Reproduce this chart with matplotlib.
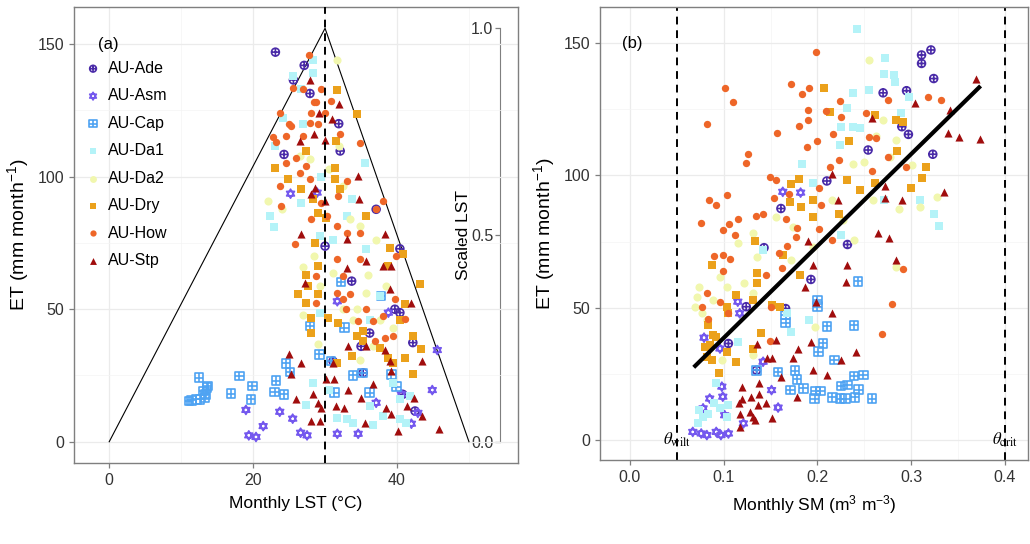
import matplotlib
matplotlib.use("Agg")
import matplotlib.pyplot as plt
from matplotlib.path import Path
import numpy as np

plt.rcParams['font.family'] = ['Liberation Sans', 'DejaVu Sans']
plt.rcParams['mathtext.fontset'] = 'custom'
plt.rcParams['mathtext.rm'] = 'Liberation Sans'
plt.rcParams['mathtext.it'] = 'Liberation Sans:italic'

# ---- datos (a): LST vs ET
sitios = ["AU-Ade", "AU-Asm", "AU-Cap", "AU-Da1", "AU-Da2", "AU-Dry", "AU-How", "AU-Stp"]

ade_lst = [23.1, 27.1, 25.6, 27.9, 31.9, 32.1, 24.3, 30.0, 37.1, 40.4, 33.7, 39.7, 40.4, 36.2, 35.0, 35.3, 40.8, 42.5, 42.2, 31.1]
ade_et_a = [147, 142, 136.5, 131.4, 120, 109.7, 108.4, 73.8, 87.7, 72.8, 60.6, 50, 48.7, 41, 36, 26, 17.9, 11.6, 37.4, 30.4]

asm_lst = [25.2, 28.9, 19.0, 23.7, 21.4, 19.4, 20.4, 25.5, 26.6, 27.5, 31.7, 34.6, 37.1, 38.8, 31.7, 42.0, 42.9, 44.9, 45.6, 40.6]
asm_et_a = [93.6, 94, 12, 11.3, 5.9, 2.4, 1.8, 8.7, 3.4, 2.4, 3, 3, 14.7, 48.7, 53, 6.8, 10.9, 19.5, 34.6, 17.9]

cap_lst = [12.5, 11.4, 11.1, 12.1, 12.6, 13.3, 13.1, 13.6, 13.7, 13.4, 16.9, 18.1, 19.9, 19.7, 23.0, 24.3, 23.2, 24.6, 25.1, 29.2,
           32.2, 32.7, 33.9, 30.8, 37.8, 39.9, 39.2, 27.9, 31.3, 35.2, 36.2]
cap_et_a = [24.2, 15.6, 15.3, 16, 16, 16.6, 19.1, 20.4, 21, 17.9, 18.2, 24.8, 21, 16, 18.7, 17.9, 23.1, 29.6, 26.3, 33,
            60.3, 43, 25, 30.4, 55, 20.8, 25.4, 43.6, 18.5, 26, 18.5]

da1_lst = [28.3, 25.6, 28.3, 26.7, 24.2, 23.0, 35.5, 22.3, 22.9, 26.7, 33.7, 35.7, 29.3, 33.0, 37.6, 36.2, 28.3, 27.4, 30.6, 33.0,
           31.6, 33.9, 36.7, 38.1, 40.4, 41.3, 36.2, 39.5, 41.8, 29.3, 31.1, 40.4, 27.0, 29.5]
da1_et_a = [144, 138, 139, 133, 122, 111.6, 105, 85, 81, 90, 91.4, 72.6, 77.6, 85, 55, 46, 22.3, 14, 19.7, 8.4,
            9, 7, 6.5, 9.7, 8.4, 7, 13.5, 22.3, 17.2, 48.7, 76, 16, 120, 100]

da2_lst = [22.1, 26.9, 29.0, 32.5, 33.4, 34.8, 35.7, 37.1, 38.5, 34.8, 37.6, 29.3, 30.2, 31.6, 32.0, 26.5, 27.9, 31.1, 32.5, 33.9,
           36.7, 34.4, 24.0, 28.5, 30.5, 36.0, 39.5, 27.0]
da2_et_a = [90.8, 66, 37, 96.5, 84, 81.4, 56, 76, 58.7, 31, 46, 58.7, 85, 144, 111.6, 107.8, 106.5, 63.8, 50, 46,
            36, 50, 88, 70, 103, 63, 43, 48]

dry_lst = [31.7, 34.5, 31.5, 23.1, 24.9, 26.7, 27.3, 28.3, 31.4, 31.4, 32.1, 29.0, 30.2, 35.7, 39.0, 40.8, 28.6, 29.0, 27.4, 27.6,
           26.2, 27.4, 29.0, 28.1, 28.1, 30.4, 31.8, 33.7, 31.6, 34.4, 35.3, 35.3, 37.7, 38.8, 39.4, 41.1, 42.2, 43.3, 42.2, 41.1,
           43.2, 40.4, 38.8]
dry_et_a = [132.7, 123.8, 113.5, 103.4, 99, 95.2, 109.7, 91.4, 103.4, 99, 95.2, 86.4, 84.5, 85.2, 73.2, 70.7, 75, 66.3, 63, 58.7,
            55.6, 52.5, 55.6, 46.8, 41, 46.8, 44.9, 32.3, 29.8, 39.9, 41.8, 38, 35.5, 31.7, 29.8, 31.7, 39.9, 35, 25.4, 51.8,
            59.4, 46, 66.3]

how_lst = [27.8, 23.8, 25.6, 26.9, 29.5, 30.8, 32.1, 34.9, 23.2, 24.6, 25.3, 26.9, 27.9, 30.0, 28.8, 28.1, 24.6, 26.5, 27.4, 27.9,
           23.7, 23.9, 28.1, 29.5, 31.8, 33.0, 31.6, 33.0, 25.8, 34.8, 38.0, 37.1, 34.8, 31.6, 32.5, 39.8, 31.6, 33.4, 32.5, 32.9,
           34.6, 35.7, 36.7, 38.1, 39.7, 41.1, 38.3, 36.9, 28.8, 28.8, 39.4, 26.0, 29.0, 25.0, 30.3, 28.5, 22.8]
how_et_a = [146, 124, 133.6, 133, 133, 128.5, 116, 112.6, 113, 115.3, 119, 115.3, 120.4, 124, 128, 124, 105, 101.5, 104, 99,
            96.5, 89, 84, 90, 92.7, 98.4, 81.4, 78.9, 74.5, 78.9, 90.8, 87.7, 68.8, 68.8, 62.5, 70, 56.2, 55.6, 53.7, 50,
            45.5, 50, 45.5, 47.4, 53.7, 46.2, 39.2, 38, 62.5, 52.5, 39.9, 107, 120, 120, 85, 128, 115]

stp_lst = [27.9, 31.9, 29.2, 31.0, 28.4, 30.0, 26.5, 34.6, 28.6, 28.1, 30.0, 34.7, 26.6, 33.0, 35.7, 38.3, 38.1, 39.2, 33.0, 39.0,
           42.0, 27.2, 35.7, 33.2, 38.3, 39.0, 43.5, 39.2, 31.1, 30.2, 31.3, 25.0, 25.3, 26.6, 26.0, 28.3, 29.0, 29.5, 28.1, 29.3,
           31.5, 33.2, 32.7, 35.0, 35.5, 36.7, 38.5, 39.2, 40.1, 41.4, 42.4, 43.5, 45.8]
stp_et_a = [136.5, 127.3, 124, 121.6, 116, 114, 113.5, 100.3, 95.8, 93.3, 90.8, 91.4, 78.2, 76.4, 68.2, 78.2, 66.3, 66.3, 65.7, 57.5,
            52.5, 60, 36, 36, 34.8, 30.4, 30.4, 26.7, 29.8, 23.5, 23.8, 33, 25.4, 29.8, 16, 17.9, 14.7, 12.8, 7.8, 7.8,
            13.5, 19.7, 12.8, 16.6, 7.2, 21.6, 12.8, 10.3, 4, 13.5, 16.6, 9.7, 4.7]

# triangulo LST
tri_lst = [0, 30, 50]
tri_et = [0, 156, 0]
lst_corte = 30

# ---- datos (b): SM vs ET
ade_sm = [0.311, 0.311, 0.321, 0.324, 0.295, 0.270, 0.290, 0.297, 0.323, 0.254, 0.210, 0.161, 0.143, 0.232, 0.193, 0.124, 0.166, 0.135, 0.105]
ade_et_b = [145.5, 142.3, 147.4, 136.6, 132, 131.2, 118.4, 115.5, 108, 109.6, 97.9, 87.5, 72.7, 73.9, 60.7, 50.4, 49.7, 26.4, 36.5]

asm_sm = [0.163, 0.182, 0.115, 0.117, 0.079, 0.096, 0.142, 0.098, 0.085, 0.078, 0.101, 0.151, 0.158, 0.121, 0.067, 0.076, 0.082, 0.092, 0.097, 0.105, 0.099]
asm_et_b = [93.8, 93.5, 52.3, 47.9, 38.7, 34.6, 29.6, 20.2, 15.7, 12, 9.4, 18.9, 12.3, 6.3, 3.1, 2.5, 1.9, 3.1, 1.9, 2.5, 16.4]

cap_sm = [0.243, 0.200, 0.200, 0.166, 0.166, 0.210, 0.239, 0.206, 0.201, 0.218, 0.135, 0.158, 0.176, 0.178, 0.239, 0.249, 0.225, 0.232, 0.244, 0.171,
          0.185, 0.198, 0.203, 0.216, 0.224, 0.230, 0.240, 0.258, 0.197]
cap_et_b = [60, 50.4, 52.9, 47.2, 44.3, 43, 43.4, 36.5, 33.4, 30.2, 26.4, 25.8, 26.2, 22.9, 24.2, 24.6, 20.4, 20.8, 19.1, 18.9,
            19.5, 18.6, 18.6, 16.1, 15.7, 15.7, 16.1, 15.7, 15.7]

da1_sm = [0.242, 0.272, 0.271, 0.282, 0.283, 0.255, 0.238, 0.232, 0.225, 0.238, 0.245, 0.224, 0.184, 0.195, 0.289, 0.298, 0.271, 0.309, 0.324, 0.330,
          0.225, 0.115, 0.172, 0.191, 0.167, 0.074, 0.078, 0.073, 0.083, 0.090, 0.096, 0.105, 0.103, 0.092, 0.142]
da1_et_b = [155.5, 144.2, 138.5, 137.9, 135.4, 132.2, 131, 125.3, 118.4, 118.4, 117.8, 111.5, 104.5, 97, 123.4, 129.7, 90.7, 90.7, 85.6, 80.9,
            77.5, 37.2, 40.9, 45.3, 47.9, 11.3, 8.8, 6.3, 10, 13.9, 12, 13.2, 8.8, 21.4, 71.8]

da2_sm = [0.255, 0.270, 0.284, 0.277, 0.238, 0.301, 0.259, 0.287, 0.309, 0.328, 0.227, 0.216, 0.174, 0.156, 0.131, 0.115, 0.135, 0.172, 0.122, 0.131,
          0.074, 0.071, 0.069, 0.077, 0.082, 0.089, 0.096, 0.103, 0.197, 0.098, 0.131, 0.284, 0.239, 0.195, 0.250, 0.262]
da2_et_b = [143.6, 120.9, 113.4, 107, 104.5, 103.8, 90.7, 87.5, 88.2, 91.9, 83.1, 90.7, 80.6, 84.4, 78.1, 74.3, 69.3, 68, 59.2, 55.4,
            57.9, 54.2, 50.4, 47.9, 45.3, 52.9, 61.7, 57.9, 42.8, 30.2, 32.1, 65.5, 75.6, 73, 105, 115]

dry_sm = [0.207, 0.213, 0.234, 0.261, 0.285, 0.291, 0.284, 0.316, 0.312, 0.300, 0.245, 0.261, 0.232, 0.180, 0.172, 0.195, 0.182, 0.171, 0.195, 0.223,
          0.133, 0.163, 0.136, 0.135, 0.181, 0.087, 0.113, 0.103, 0.105, 0.131, 0.152, 0.160, 0.083, 0.089, 0.085, 0.080, 0.082, 0.087, 0.092, 0.103,
          0.113, 0.095, 0.140, 0.131]
dry_et_b = [133.1, 123.8, 113, 122.8, 109.3, 120.3, 120.9, 103.3, 99.1, 95.1, 94.5, 97, 98.2, 98.5, 96.6, 90.7, 87.9, 89.8, 84.4, 85.6,
            75.3, 69.9, 63, 59.2, 62.3, 66.1, 54.8, 50.4, 47.9, 52.9, 51, 50.4, 43.4, 39.7, 35.9, 35.3, 31.5, 30.2, 39, 33.4,
            29.6, 25.4, 40.3, 34.6]

how_sm = [0.198, 0.101, 0.110, 0.172, 0.191, 0.183, 0.224, 0.275, 0.318, 0.332, 0.252, 0.225, 0.209, 0.190, 0.180, 0.157, 0.189, 0.217, 0.199, 0.255,
          0.275, 0.294, 0.258, 0.223, 0.213, 0.126, 0.124, 0.082, 0.149, 0.156, 0.170, 0.154, 0.202, 0.204, 0.084, 0.092, 0.104, 0.076, 0.106, 0.115,
          0.099, 0.112, 0.134, 0.142, 0.166, 0.178, 0.202, 0.215, 0.177, 0.167, 0.159, 0.099, 0.107, 0.090, 0.099, 0.145, 0.162, 0.082, 0.077, 0.096,
          0.083, 0.105, 0.150, 0.149, 0.279, 0.291, 0.269, 0.190, 0.262]
how_et_b = [146.5, 133.2, 127.8, 134.5, 133.2, 130.6, 128.2, 128.5, 129.7, 128.5, 123.7, 121.9, 124.4, 124.7, 118.6, 115.9, 110.8, 115.5, 113, 114.6,
            107, 103.3, 101.8, 105.8, 103.3, 108.1, 104.8, 119.4, 99.5, 98.2, 93, 91.3, 95.1, 89, 90.7, 88.8, 92.6, 81.9, 81.6, 83.4,
            79.3, 77.5, 84.6, 85.6, 83.5, 80, 79.6, 75.6, 76.6, 73.3, 70.8, 69.9, 68.6, 69.5, 64, 62.3, 64.9, 55.7, 50.1, 52.3,
            45.6, 47.9, 50.1, 37.5, 51.4, 64.5, 39.9, 121, 114]

stp_sm = [0.369, 0.341, 0.304, 0.258, 0.339, 0.351, 0.373, 0.335, 0.290, 0.272, 0.272, 0.216, 0.222, 0.265, 0.276, 0.284, 0.232, 0.230, 0.195, 0.190,
          0.187, 0.198, 0.215, 0.193, 0.179, 0.156, 0.135, 0.241, 0.225, 0.210, 0.195, 0.174, 0.151, 0.161, 0.138, 0.138, 0.120, 0.129, 0.120, 0.116,
          0.137, 0.145, 0.117, 0.128, 0.131, 0.133, 0.151, 0.117, 0.178, 0.146]
stp_et_b = [136.4, 124.7, 127.2, 121.8, 116.2, 114.6, 113.6, 93.8, 90.7, 96, 91.6, 100.5, 90.7, 78.1, 76.4, 68, 66.1, 59.8, 66.1, 75.3,
            57.7, 52.3, 47.9, 37.2, 34.3, 37.8, 36.3, 33.4, 30.2, 24.6, 26.4, 30.9, 30.9, 23.9, 21.4, 17.6, 20.2, 16.4, 15.7, 13.9,
            13.2, 13.9, 10, 10.7, 8.8, 7.6, 8.2, 5, 16.4, 31]

# recta de ajuste y umbrales
ajuste_sm = [0.068, 0.374]
ajuste_et = [27.5, 133.8]
theta_wilt = 0.05
theta_crit = 0.4

# ---- marcadores tipo R (pch 10, 11, 12)
M, L, C = Path.MOVETO, Path.LINETO, Path.CLOSEPOLY
cruz = Path([(-1, 0), (1, 0), (0, -1), (0, 1)], [M, L, M, L])
circulo_cruz = Path.make_compound_path(Path.unit_circle(), cruz)
cuadro = Path([(-1, -1), (1, -1), (1, 1), (-1, 1), (-1, -1)], [M, L, L, L, C])
cuadro_cruz = Path.make_compound_path(cuadro, cruz)
arriba = Path([(0, 1), (-0.866, -0.5), (0.866, -0.5), (0, 1)], [M, L, L, C])
abajo = Path([(0, -1), (-0.866, 0.5), (0.866, 0.5), (0, -1)], [M, L, L, C])
estrella = Path.make_compound_path(arriba, abajo)

colores = ["#4A2BA8", "#7458EE", "#4FA3F2", "#B4F3F8", "#F1F7AE", "#EBA11B", "#EE6628", "#A00D0D"]
marcadores = [circulo_cruz, estrella, cuadro_cruz, "s", "o", "s", "o", "^"]
abiertos = [True, True, True, False, False, False, False, False]
tamanos = [32, 42, 38, 30, 34, 30, 28, 34]

datos_a = [(ade_lst, ade_et_a), (asm_lst, asm_et_a), (cap_lst, cap_et_a), (da1_lst, da1_et_a),
           (da2_lst, da2_et_a), (dry_lst, dry_et_a), (how_lst, how_et_a), (stp_lst, stp_et_a)]
datos_b = [(ade_sm, ade_et_b), (asm_sm, asm_et_b), (cap_sm, cap_et_b), (da1_sm, da1_et_b),
           (da2_sm, da2_et_b), (dry_sm, dry_et_b), (how_sm, how_et_b), (stp_sm, stp_et_b)]

gris = "#7F7F7F"


def estilo(ax):
    for s in ax.spines.values():
        s.set_color(gris)
        s.set_linewidth(1.0)
    ax.grid(True, which="major", color="#EBEBEB", lw=0.9, zorder=0)
    ax.grid(True, which="minor", color="#F4F4F4", lw=0.5, zorder=0)
    ax.set_axisbelow(True)
    ax.tick_params(which="major", color=gris, length=3.5, width=0.9, labelsize=11.5, labelcolor="#333333")
    ax.tick_params(which="minor", length=0)


def puntos(ax, datos):
    for i, (xx, yy) in enumerate(datos):
        if abiertos[i]:
            ax.scatter(xx, yy, s=tamanos[i], marker=marcadores[i], facecolors="none",
                       edgecolors=colores[i], linewidths=1.2, label=sitios[i], zorder=3)
        else:
            ax.scatter(xx, yy, s=tamanos[i], marker=marcadores[i], c=colores[i],
                       linewidths=0, label=sitios[i], zorder=3)


fig = plt.figure(figsize=(10.3, 5.44), dpi=100)
ax1 = fig.add_axes([0.0718, 0.149, 0.431, 0.838])
ax2 = fig.add_axes([0.5825, 0.154, 0.4155, 0.833])

# ---- panel (a)
estilo(ax1)
ax1.plot(tri_lst, tri_et, color="black", lw=0.8, zorder=2)
ax1.axvline(lst_corte, color="black", lw=1.4, ls=(0, (4, 3)), zorder=4)
puntos(ax1, datos_a)
ax1.set_xlim(-4.9, 56.8)
ax1.set_ylim(-8, 164)
ax1.set_xticks([0, 20, 40])
ax1.set_xticks([10, 30, 50], minor=True)
ax1.set_yticks([0, 50, 100, 150])
ax1.set_yticks([25, 75, 125], minor=True)
ax1.set_xlabel("Monthly LST (°C)", fontsize=12.5, labelpad=6)
ax1.set_ylabel("ET (mm month$^{-1}$)", fontsize=14, labelpad=5)
ax1.text(-1.6, 150, "(a)", fontsize=12, ha="left", va="center")
ax1.legend(loc="upper left", bbox_to_anchor=(0.025, 0.882), frameon=False, fontsize=11.5,
           handlelength=1.0, handletextpad=0.45, labelspacing=0.78, borderaxespad=0, borderpad=0,
           scatterpoints=1, markerscale=0.85)

et_max = max(tri_et)
sec = ax1.secondary_yaxis(0.959, functions=(lambda e: e / et_max, lambda s: s * et_max))
sec.set_alignment("left")
sec.spines["left"].set_bounds(0, 1)
sec.spines["left"].set_color(gris)
sec.set_yticks([0, 0.5, 1.0])
sec.set_yticklabels(["0.0", "0.5", "1.0"])
sec.tick_params(color=gris, length=3.5, width=0.9, labelsize=11.5, labelcolor="#333333", pad=1)
sec.set_ylabel("Scaled LST", fontsize=12.5, labelpad=0)

# ---- panel (b)
estilo(ax2)
ax2.axvline(theta_wilt, color="black", lw=1.4, ls=(0, (4, 3)), zorder=2)
ax2.axvline(theta_crit, color="black", lw=1.4, ls=(0, (4, 3)), zorder=2)
puntos(ax2, datos_b)
ax2.plot(ajuste_sm, ajuste_et, color="black", lw=3, solid_capstyle="butt", zorder=5)
ax2.set_xlim(-0.032, 0.4245)
ax2.set_ylim(-7.6, 163.6)
ax2.set_xticks([0.0, 0.1, 0.2, 0.3, 0.4])
ax2.set_xticklabels(["0.0", "0.1", "0.2", "0.3", "0.4"])
ax2.set_xticks([0.05, 0.15, 0.25, 0.35], minor=True)
ax2.set_yticks([0, 50, 100, 150])
ax2.set_yticks([25, 75, 125], minor=True)
ax2.set_xlabel("Monthly SM (m$^3$ m$^{-3}$)", fontsize=12.5, labelpad=6)
ax2.set_ylabel("ET (mm month$^{-1}$)", fontsize=14, labelpad=5)
ax2.text(-0.008, 150, "(b)", fontsize=12, ha="left", va="center")
ax2.text(theta_wilt, 0, r"$\theta_{\mathrm{wilt}}$", fontsize=12, ha="center", va="center",
         math_fontfamily="stix", zorder=6)
ax2.text(theta_crit, 0, r"$\theta_{\mathrm{crit}}$", fontsize=12, ha="center", va="center",
         math_fontfamily="stix", zorder=6)

plt.savefig("out.png", dpi=100)
